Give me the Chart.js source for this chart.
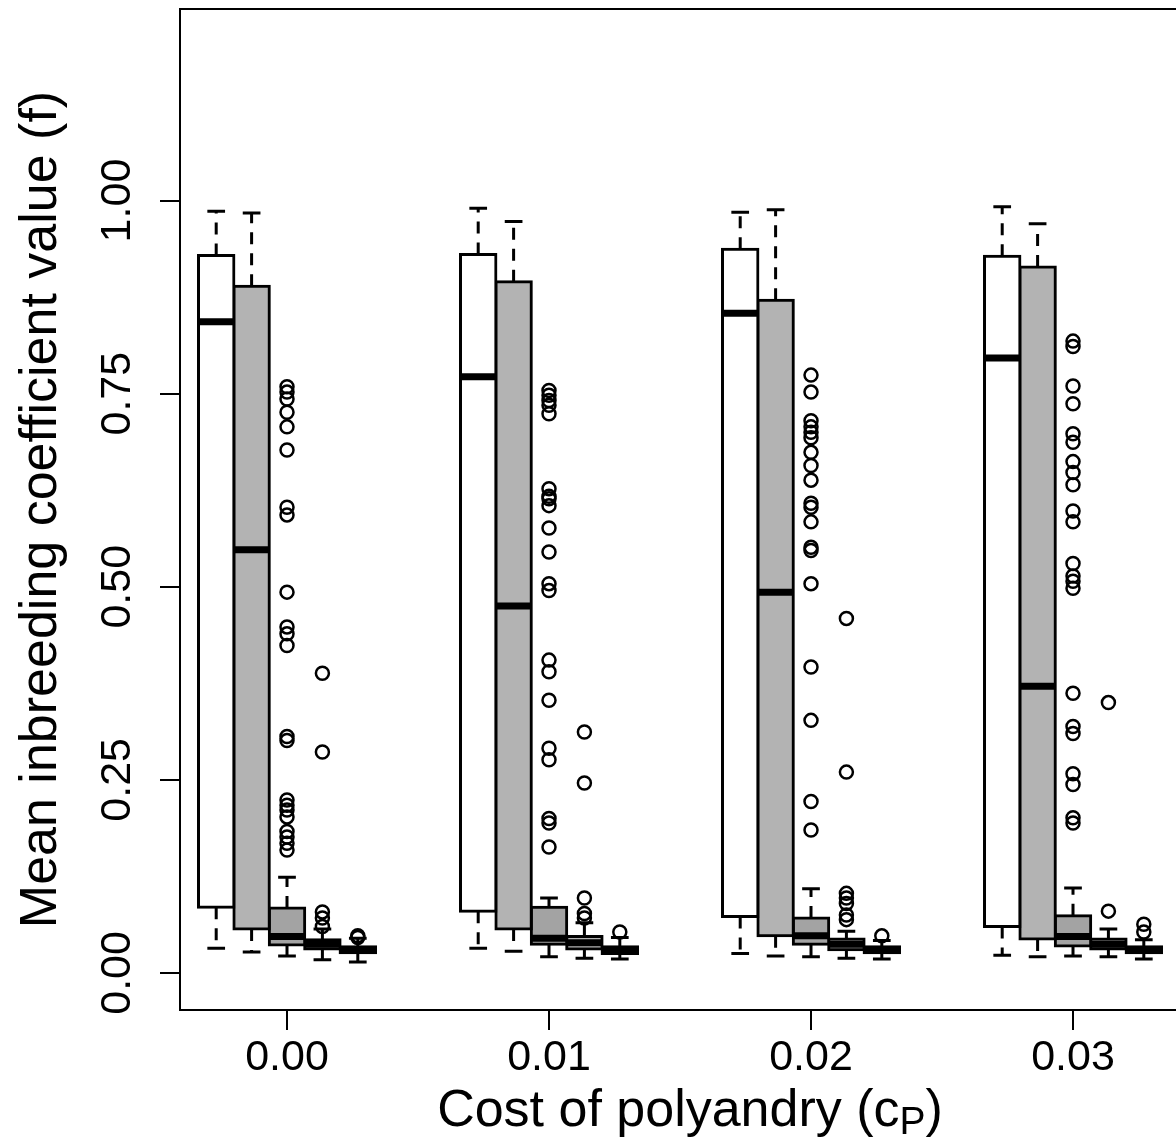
<!DOCTYPE html>
<html>
<head>
<meta charset="utf-8">
<title>Mean inbreeding coefficient by cost of polyandry</title>
<script src="https://cdn.jsdelivr.net/npm/chart.js@4.4.1/dist/chart.umd.min.js"></script>
<style>
  html, body { margin: 0; padding: 0; background: #fff; overflow: hidden; }
  #wrap { width: 1300px; height: 1140px; }
</style>
</head>
<body>
<div id="wrap"><canvas id="chart"></canvas></div>
<script>
// x groups (cost of polyandry) and axis ticks
const costs = [0.00, 0.01, 0.02, 0.03];
const yTicks = [0, 0.25, 0.5, 0.75, 1.0];

// five boxes per cost; each entry: [lower whisker, q1, median, q3, upper whisker]
const series1 = [
  [0.032, 0.085, 0.843, 0.929, 0.986],
  [0.032, 0.080, 0.772, 0.930, 0.990],
  [0.025, 0.073, 0.854, 0.937, 0.985],
  [0.023, 0.060, 0.796, 0.928, 0.992]
];
const series2 = [
  [0.027, 0.057, 0.548, 0.889, 0.984],
  [0.028, 0.057, 0.475, 0.895, 0.973],
  [0.022, 0.048, 0.493, 0.871, 0.988],
  [0.021, 0.044, 0.371, 0.914, 0.970]
];
const series3 = [
  [0.022, 0.036, 0.047, 0.084, 0.124],
  [0.021, 0.037, 0.045, 0.085, 0.097],
  [0.021, 0.037, 0.048, 0.071, 0.109],
  [0.022, 0.035, 0.047, 0.074, 0.110]
];
const series4 = [
  [0.017, 0.031, 0.037, 0.043, 0.057],
  [0.019, 0.031, 0.039, 0.047, 0.065],
  [0.019, 0.030, 0.037, 0.044, 0.054],
  [0.021, 0.031, 0.037, 0.044, 0.057]
];
const series5 = [
  [0.014, 0.026, 0.030, 0.034, 0.045],
  [0.018, 0.025, 0.029, 0.034, 0.046],
  [0.018, 0.026, 0.030, 0.034, 0.042],
  [0.018, 0.026, 0.030, 0.034, 0.043]
];

// outliers per cost (series 1 and 2 have none)
const outliers3 = [
  [0.759, 0.752, 0.743, 0.726, 0.707, 0.677, 0.603, 0.593, 0.493, 0.448, 0.439, 0.424,
   0.306, 0.301, 0.224, 0.217, 0.211, 0.202, 0.183, 0.176, 0.168, 0.159],
  [0.754, 0.748, 0.741, 0.735, 0.724, 0.627, 0.617, 0.614, 0.605, 0.576, 0.545, 0.504,
   0.495, 0.405, 0.390, 0.353, 0.291, 0.276, 0.200, 0.194, 0.163],
  [0.774, 0.752, 0.715, 0.707, 0.700, 0.693, 0.674, 0.657, 0.638, 0.608, 0.603, 0.584,
   0.551, 0.547, 0.504, 0.396, 0.327, 0.222, 0.185],
  [0.818, 0.811, 0.760, 0.737, 0.698, 0.687, 0.662, 0.648, 0.632, 0.598, 0.584, 0.530,
   0.514, 0.507, 0.498, 0.362, 0.319, 0.310, 0.258, 0.244, 0.201, 0.194]
];
const outliers4 = [
  [0.388, 0.286, 0.079, 0.071, 0.060],
  [0.312, 0.246, 0.097, 0.077, 0.071],
  [0.459, 0.260, 0.103, 0.097, 0.090, 0.075, 0.069],
  [0.350, 0.080]
];
const outliers5 = [
  [0.048, 0.046],
  [0.053],
  [0.048],
  [0.063, 0.053]
];

const allSeries = [series1, series2, series3, series4, series5];
const allOutliers = [[], [], outliers3, outliers4, outliers5];
const boxColors = ['#ffffff', '#b3b3b3', '#a3a3a3', '#b3b3b3', '#b3b3b3'];

// box spacing in x units: boxes sit side by side, the middle one on the tick
const boxStep = 0.01 * 35.4 / 262;
const boxX = (g, i) => costs[g] + (i - 2) * boxStep;

const FONT = '"Liberation Sans", Arial, Helvetica, sans-serif';

const datasets = [];
allSeries.forEach((s, i) => {
  datasets.push({
    type: 'bar',
    data: s.map((st, g) => ({ x: boxX(g, i), y: [st[1], st[3]] })),
    backgroundColor: boxColors[i],
    borderColor: '#000',
    borderWidth: 3,
    borderSkipped: false,
    inflateAmount: 1.5,
    grouped: false,
    barThickness: 35.4,
    order: 2
  });
});
allOutliers.forEach((o, i) => {
  if (!o.length) return;
  const pts = [];
  o.forEach((vals, g) => vals.forEach(v => pts.push({ x: boxX(g, i), y: v })));
  datasets.push({
    type: 'scatter',
    data: pts,
    pointRadius: 6.5,
    pointBorderWidth: 2.5,
    pointBackgroundColor: 'rgba(0,0,0,0)',
    pointBorderColor: '#000',
    order: 1
  });
});

// whiskers, caps and medians drawn through the chart's scales
const boxParts = {
  id: 'boxParts',
  beforeDatasetsDraw(chart) {
    const { ctx, scales: { x, y } } = chart;
    const half = (x.getPixelForValue(boxStep) - x.getPixelForValue(0)) / 2;
    ctx.save();
    ctx.strokeStyle = '#000';
    ctx.lineWidth = 3;
    allSeries.forEach((s, i) => {
      s.forEach((st, g) => {
        const cx = x.getPixelForValue(boxX(g, i));
        const lo = y.getPixelForValue(st[0]);
        const q1 = y.getPixelForValue(st[1]);
        const q3 = y.getPixelForValue(st[3]);
        const hi = y.getPixelForValue(st[4]);
        ctx.setLineDash([12, 9]);
        ctx.beginPath();
        ctx.moveTo(cx, q3); ctx.lineTo(cx, hi);
        ctx.moveTo(cx, q1); ctx.lineTo(cx, lo);
        ctx.stroke();
        ctx.setLineDash([]);
        ctx.beginPath();
        ctx.moveTo(cx - half / 2, hi); ctx.lineTo(cx + half / 2, hi);
        ctx.moveTo(cx - half / 2, lo); ctx.lineTo(cx + half / 2, lo);
        ctx.stroke();
      });
    });
    ctx.restore();
  },
  afterDatasetsDraw(chart) {
    const { ctx, scales: { x, y } } = chart;
    const half = (x.getPixelForValue(boxStep) - x.getPixelForValue(0)) / 2;
    ctx.save();
    ctx.strokeStyle = '#000';
    ctx.lineWidth = 7;
    ctx.lineCap = 'butt';
    allSeries.forEach((s, i) => {
      s.forEach((st, g) => {
        const cx = x.getPixelForValue(boxX(g, i));
        const m = y.getPixelForValue(st[2]);
        ctx.beginPath();
        ctx.moveTo(cx - half, m); ctx.lineTo(cx + half, m);
        ctx.stroke();
      });
    });
    ctx.restore();
  },
  afterDraw(chart) {
    const { ctx, chartArea: a } = chart;
    ctx.save();
    // plot frame
    ctx.strokeStyle = '#000';
    ctx.lineWidth = 2;
    ctx.strokeRect(a.left, a.top, a.right - a.left, a.bottom - a.top);
    // x axis title with subscript P
    const main = 'Cost of polyandry (c';
    const sub = 'P';
    const close = ')';
    ctx.fillStyle = '#000';
    ctx.textBaseline = 'alphabetic';
    ctx.textAlign = 'left';
    ctx.font = '52px ' + FONT;
    const w1 = ctx.measureText(main).width;
    const w3 = ctx.measureText(close).width;
    ctx.font = '39px ' + FONT;
    const w2 = ctx.measureText(sub).width;
    const total = w1 + w2 + w3;
    const x0 = (a.left + a.right) / 2 - total / 2;
    const base = a.bottom + 116;
    ctx.font = '52px ' + FONT;
    ctx.fillText(main, x0, base);
    ctx.font = '39px ' + FONT;
    ctx.fillText(sub, x0 + w1, base + 8);
    ctx.font = '52px ' + FONT;
    ctx.fillText(close, x0 + w1 + w2, base);
    ctx.restore();
  }
};

new Chart(document.getElementById('chart'), {
  type: 'bar',
  data: { datasets: datasets },
  options: {
    responsive: true,
    maintainAspectRatio: false,
    animation: false,
    layout: { padding: { top: 8, right: 100, left: 0, bottom: 0 } },
    plugins: {
      legend: { display: false },
      tooltip: { enabled: false }
    },
    scales: {
      x: {
        type: 'linear',
        offset: false,
        min: -0.004084,
        max: 0.034847,
        afterBuildTicks: s => { s.ticks = costs.map(v => ({ value: v })); },
        afterFit: s => { s.height = 130; s.paddingLeft = 0; s.paddingRight = 0; },
        grid: { offset: false, drawOnChartArea: false, drawTicks: true, tickLength: 20, color: '#000', lineWidth: 2 },
        border: { display: false },
        ticks: {
          color: '#000',
          padding: 2,
          maxRotation: 0,
          font: { family: FONT, size: 43 },
          callback: v => v.toFixed(2)
        }
      },
      y: {
        type: 'linear',
        min: -0.048,
        max: 1.248,
        afterBuildTicks: s => { s.ticks = yTicks.map(v => ({ value: v })); },
        afterFit: s => { s.width = 180; s.paddingTop = 0; s.paddingBottom = 0; },
        grid: { drawOnChartArea: false, drawTicks: true, tickLength: 20, color: '#000', lineWidth: 2 },
        border: { display: false },
        ticks: {
          color: '#000',
          padding: 0,
          minRotation: 90,
          maxRotation: 90,
          crossAlign: 'center',
          font: { family: FONT, size: 43 },
          callback: v => v.toFixed(2)
        },
        title: {
          display: true,
          text: 'Mean inbreeding coefficient value (f)',
          color: '#000',
          font: { family: FONT, size: 52, lineHeight: 1 },
          padding: { top: 16, bottom: 0 }
        }
      }
    }
  },
  plugins: [boxParts]
});
</script>
</body>
</html>
